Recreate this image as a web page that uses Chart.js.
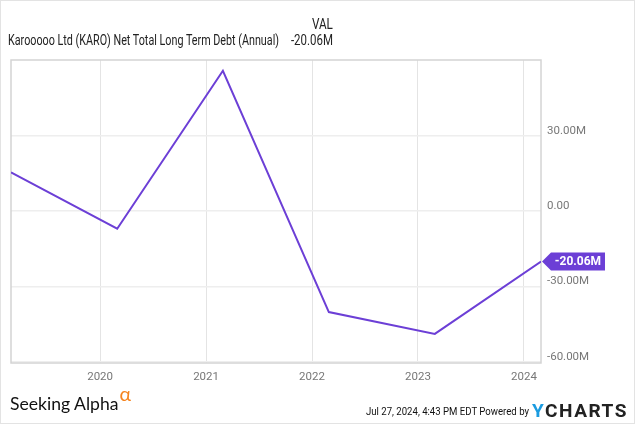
<!DOCTYPE html>
<html>
<head>
<meta charset="utf-8">
<script src="https://cdn.jsdelivr.net/npm/chart.js@4/dist/chart.umd.min.js"></script>
<style>
  html, body { margin: 0; padding: 0; background: #fff; }
  #wrap { position: relative; width: 635px; height: 424px; box-sizing: border-box; border: 1px solid #e3e3e3; overflow: hidden; font-family: Roboto, sans-serif; }
  #chart { position: absolute; left: -1px; top: -1px; }
  .txt { position: absolute; white-space: nowrap; transform-origin: left top; }
  #title { left: 7px; top: 30px; font-size: 15px; color: #222; }
  #valHead { right: 301px; top: 14px; font-size: 15px; color: #222; transform-origin: right top; }
  #valNow { right: 301px; top: 30px; font-size: 15px; color: #222; transform-origin: right top; }
  #sa { left: 9px; top: 390px; font-family: Lato, "Open Sans", sans-serif; font-size: 18px; line-height: 24px; color: #111; }
  #sa sup { color: #f5841f; font-size: 20px; line-height: 0; position: relative; top: -2px; margin-left: 1px; }
  #stamp { left: 365px; top: 403px; font-size: 11.5px; color: #111; }
  #yc { left: 531px; top: 398px; font-size: 19px; font-weight: bold; letter-spacing: 1.5px; color: #222; }
  #yc span { color: #1b9be0; }
</style>
</head>
<body>
<div id="wrap">
  <canvas id="chart" width="635" height="424"></canvas>
  <div class="txt" id="title" data-w="271">Karooooo Ltd (KARO) Net Total Long Term Debt (Annual)</div>
  <div class="txt" id="valHead" data-w="21">VAL</div>
  <div class="txt" id="valNow" data-w="42">-20.06M</div>
  <div class="txt" id="sa" data-w="121">Seeking Alpha<sup>α</sup></div>
  <div class="txt" id="stamp" data-w="163">Jul 27, 2024, 4:43 PM EDT Powered by</div>
  <div class="txt" id="yc" data-w="96"><span>Y</span>CHARTS</div>
</div>
<script>
// fiscal year ends, values in millions
const periods = ['2019-02-28', '2020-02-29', '2021-02-28', '2022-02-28', '2023-02-28', '2024-02-29'];
const debtValues = [15.4, -7.0, 55.9, -40.2, -48.9, -20.06];
const yearTicks = [2020, 2021, 2022, 2023, 2024];
const valueTicks = [-60, -30, 0, 30];

const purple = '#6c3fd6';

function toYear(s) {
  const d = new Date(s + 'T00:00:00Z');
  const y = d.getUTCFullYear();
  const start = Date.UTC(y, 0, 1);
  const end = Date.UTC(y + 1, 0, 1);
  return y + (d - start) / (end - start);
}

const points = periods.map((p, i) => ({ x: toYear(p), y: debtValues[i] }));

function fmt(v) {
  if (v === 0) return '0.00';
  return v.toFixed(2) + 'M';
}

// squeeze the header/footer texts to the widths seen in the picture
document.querySelectorAll('.txt').forEach(el => {
  const target = Number(el.dataset.w);
  const w = el.getBoundingClientRect().width;
  if (target && w) el.style.transform = `scaleX(${target / w})`;
});

const frame = {
  id: 'frame',
  beforeDatasetsDraw(chart) {
    const a = chart.chartArea;
    const ctx = chart.ctx;
    ctx.save();
    ctx.strokeStyle = '#d4d4d4';
    ctx.lineWidth = 1.5;
    ctx.strokeRect(a.left, a.top, a.right - a.left, a.bottom - a.top);
    ctx.restore();
  }
};

const lastLabel = {
  id: 'lastLabel',
  afterDraw(chart) {
    const ys = chart.scales.y;
    const xs = chart.scales.x;
    const last = points[points.length - 1];
    const px = xs.getPixelForValue(last.x);
    const py = ys.getPixelForValue(last.y);
    const ctx = chart.ctx;
    const h = 18, arrow = 9, w = 54;
    ctx.save();
    ctx.fillStyle = purple;
    ctx.beginPath();
    ctx.moveTo(px + 1, py);
    ctx.lineTo(px + 1 + arrow, py - h / 2);
    ctx.lineTo(px + 1 + arrow + w, py - h / 2);
    ctx.lineTo(px + 1 + arrow + w, py + h / 2);
    ctx.lineTo(px + 1 + arrow, py + h / 2);
    ctx.closePath();
    ctx.fill();
    ctx.fillStyle = '#fff';
    ctx.font = 'bold 12px Roboto, sans-serif';
    ctx.textAlign = 'center';
    ctx.textBaseline = 'middle';
    ctx.fillText(fmt(last.y), px + 1 + arrow + w / 2, py + 1);
    ctx.restore();
  }
};

new Chart(document.getElementById('chart'), {
  type: 'line',
  data: {
    datasets: [{
      data: points,
      borderColor: purple,
      borderWidth: 2,
      pointRadius: 0,
      tension: 0,
      fill: false
    }]
  },
  options: {
    responsive: false,
    animation: false,
    events: [],
    layout: { padding: { left: 11, top: 60, right: 0, bottom: 37 } },
    plugins: { legend: { display: false }, tooltip: { enabled: false } },
    scales: {
      x: {
        type: 'linear',
        min: points[0].x,
        max: points[points.length - 1].x,
        afterBuildTicks(s) { s.ticks = yearTicks.map(v => ({ value: v })); },
        afterFit(s) { s.height = 24; },
        grid: { color: '#e4e4e4', lineWidth: 1, drawTicks: false },
        border: { display: false },
        ticks: {
          padding: 7,
          color: '#777',
          font: { family: 'Roboto', size: 11.5 },
          maxRotation: 0,
          callback: v => String(v)
        }
      },
      y: {
        position: 'right',
        min: -60.5,
        max: 60.2,
        afterBuildTicks(s) { s.ticks = valueTicks.map(v => ({ value: v })); },
        afterFit(s) { s.width = 94; },
        grid: { color: '#eeeeee', lineWidth: 1.5, drawTicks: false },
        border: { display: false },
        ticks: {
          padding: 6,
          labelOffset: -5,
          color: '#777',
          font: { family: 'Roboto', size: 11.5 },
          callback: v => fmt(v)
        }
      }
    }
  },
  plugins: [frame, lastLabel]
});
</script>
</body>
</html>
